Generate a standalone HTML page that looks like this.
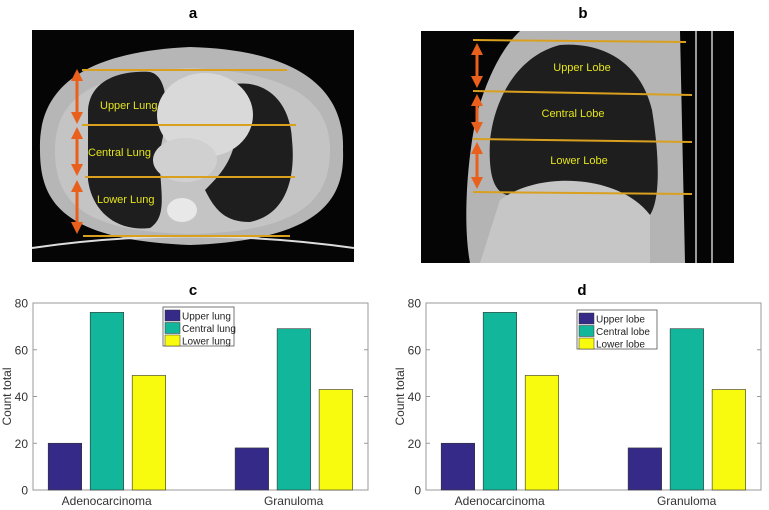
<!DOCTYPE html>
<html><head><meta charset="utf-8">
<style>
body{margin:0;background:#fff;width:769px;height:510px;overflow:hidden;font-family:"Liberation Sans",sans-serif;}
svg{position:absolute;left:0;top:0;}
</style></head>
<body>
<svg id="fig" width="769" height="510" viewBox="0 0 769 510">
<defs>
<marker id="ah" markerWidth="4" markerHeight="4" refX="2" refY="2" orient="auto-start-reverse"><path d="M0,0 L4,2 L0,4 z" fill="#e8601c"/></marker>
</defs>
<text x="193" y="18" font-size="15" font-weight="bold" text-anchor="middle">a</text>
<text x="583" y="18" font-size="15" font-weight="bold" text-anchor="middle">b</text>
<text x="193" y="295" font-size="15" font-weight="bold" text-anchor="middle">c</text>
<text x="582" y="295" font-size="15" font-weight="bold" text-anchor="middle">d</text>

<g>
<rect x="32" y="30" width="322" height="232" fill="#050505"/>
<path d="M40,150 C38,90 80,52 190,47 C300,50 345,90 343,150 C345,200 320,240 190,245 C60,240 40,200 40,150 Z" fill="#b6b6b6"/>
<path d="M55,150 C55,100 90,72 190,68 C290,72 330,100 330,150 C330,200 300,232 190,234 C80,232 55,200 55,150 Z" fill="#c4c4c4"/>
<path d="M88,110 C90,80 120,70 150,72 C168,76 170,110 160,150 C158,185 170,215 150,228 C115,232 92,210 88,180 Z" fill="#1e1e1e"/>
<path d="M235,84 C265,80 290,100 292,140 C296,180 285,215 250,222 C225,222 215,210 205,190 C225,170 245,150 235,84 Z" fill="#1e1e1e"/>
<ellipse cx="205" cy="115" rx="48" ry="42" fill="#d9d9d9"/>
<ellipse cx="185" cy="160" rx="32" ry="22" fill="#d0d0d0"/>
<ellipse cx="182" cy="210" rx="15" ry="12" fill="#e8e8e8"/>
<path d="M32,248 Q190,225 354,248" stroke="#ddd" stroke-width="2" fill="none"/>
<g stroke="#d9a020" stroke-width="2">
<line x1="82" y1="70" x2="287" y2="70"/><line x1="82" y1="125" x2="296" y2="125"/>
<line x1="85" y1="177" x2="295" y2="177"/><line x1="83" y1="236" x2="290" y2="236"/>
</g>
<g stroke="#e8601c" stroke-width="3" marker-start="url(#ah)" marker-end="url(#ah)">
<line x1="77" y1="75" x2="77" y2="118"/><line x1="77" y1="133" x2="77" y2="170"/><line x1="77" y1="186" x2="77" y2="228"/>
</g>
<g fill="#e4e41a" font-size="11">
<text x="100" y="109">Upper Lung</text>
<text x="88" y="156">Central Lung</text>
<text x="97" y="203">Lower Lung</text>
</g>
</g>

<g>
<rect x="421" y="31" width="313" height="232" fill="#050505"/>
<path d="M520,31 L680,31 L685,263 L470,263 C462,220 468,150 478,110 C490,70 505,45 520,31 Z" fill="#b4b4b4"/>
<path d="M560,45 C600,42 640,60 652,110 C660,160 660,200 650,215 C620,200 560,170 520,195 C495,200 488,180 490,140 C495,95 520,55 560,45 Z" fill="#1e1e1e"/>
<path d="M500,200 C540,170 620,175 650,215 L650,263 L480,263 Z" fill="#c6c6c6"/>
<line x1="696" y1="31" x2="696" y2="263" stroke="#ccc" stroke-width="1.5"/>
<line x1="712" y1="31" x2="712" y2="263" stroke="#ccc" stroke-width="1.5"/>
<g stroke="#d9a020" stroke-width="2">
<line x1="473" y1="40" x2="686" y2="42"/><line x1="473" y1="91" x2="692" y2="95"/>
<line x1="473" y1="139" x2="692" y2="142"/><line x1="473" y1="192" x2="692" y2="194"/>
</g>
<g stroke="#e8601c" stroke-width="3" marker-start="url(#ah)" marker-end="url(#ah)">
<line x1="477" y1="49" x2="477" y2="82"/><line x1="477" y1="100" x2="477" y2="128"/><line x1="477" y1="148" x2="477" y2="183"/>
</g>
<g fill="#e4e41a" font-size="11" text-anchor="middle">
<text x="582" y="71">Upper Lobe</text>
<text x="573" y="117">Central Lobe</text>
<text x="579" y="164">Lower Lobe</text>
</g>
</g>
<g id="charts"></g>
</svg>
<script>
const categories = ["Adenocarcinoma", "Granuloma"];
const upperVals = [20, 18];
const centralVals = [76, 69];
const lowerVals = [49, 43];
const yTicks = [0, 20, 40, 60, 80];
const legendC = ["Upper lung", "Central lung", "Lower lung"];
const legendD = ["Upper lobe", "Central lobe", "Lower lobe"];
const colors = ["#352a87", "#12b79b", "#f9fb0e"];

const NS = "http://www.w3.org/2000/svg";
const root = document.getElementById("charts");
function mk(tag, attrs, parent) {
  const e = document.createElementNS(NS, tag);
  for (const k in attrs) e.setAttribute(k, attrs[k]);
  parent.appendChild(e);
  return e;
}
function drawChart(x0, x1, y0, y1, legendLabels, legX, legY, legW, id) {
  const g = mk("g", {}, root);
  
  
  const ys = v => y1 - (v / 80) * (y1 - y0);
  const W = x1 - x0;
  const xs = i => x0 + W * (0.22 + i * 0.558);
  mk("rect", {x: x0, y: y0, width: W, height: y1 - y0, fill: "#fff", stroke: "#999", "stroke-width": 1}, g);
  yTicks.forEach(t => {
    const y = ys(t);
    mk("line", {x1: x0, y1: y, x2: x0 + 4, y2: y, stroke: "#999"}, g);
    mk("line", {x1: x1, y1: y, x2: x1 - 4, y2: y, stroke: "#999"}, g);
    const tx = mk("text", {x: x0 - 5, y: y + 4.5, "font-size": 12, "text-anchor": "end", fill: "#333"}, g);
    tx.textContent = t;
    
    
  });
  const series = [upperVals, centralVals, lowerVals];
  categories.forEach((c, i) => {
    const cx = xs(i);
    series.forEach((vals, s) => {
      const bx = cx + (s - 1) * 42 - 16.5;
      const r = mk("rect", {x: bx, y: ys(vals[i]), width: 33.5, height: ys(0) - ys(vals[i]), fill: colors[s], stroke: "#333", "stroke-width": 0.6}, g);
      
      
    });
    const t = mk("text", {x: cx, y: y1 + 15, "font-size": 12, "text-anchor": "middle", fill: "#333"}, g);
    t.textContent = c;
    
    
  });
  const yl = mk("text", {x: 0, y: 0, "font-size": 12, "text-anchor": "middle", fill: "#333", transform: "translate(" + (x0 - 22) + "," + ((y0 + y1) / 2) + ") rotate(-90)"}, g);
  yl.textContent = "Count total";
  
  
  const lg = mk("g", {}, g);
  
  
  mk("rect", {x: legX, y: legY, width: legW, height: 39, fill: "#fff", stroke: "#555", "stroke-width": 0.8}, lg);
  legendLabels.forEach((lab, s) => {
    const yy = legY + 3 + s * 12.5;
    mk("rect", {x: legX + 2, y: yy, width: 15, height: 11, fill: colors[s], stroke: "#333", "stroke-width": 0.5}, lg);
    const t = mk("text", {x: legX + 19, y: yy + 9.5, "font-size": 10, fill: "#222"}, lg);
    t.textContent = lab;
    
    
  });
}
drawChart(33, 368, 303, 490, legendC, 163, 307, 71, "chart-c");
drawChart(426, 761, 303, 490, legendD, 577, 310, 80, "chart-d");
</script>
</body></html>
